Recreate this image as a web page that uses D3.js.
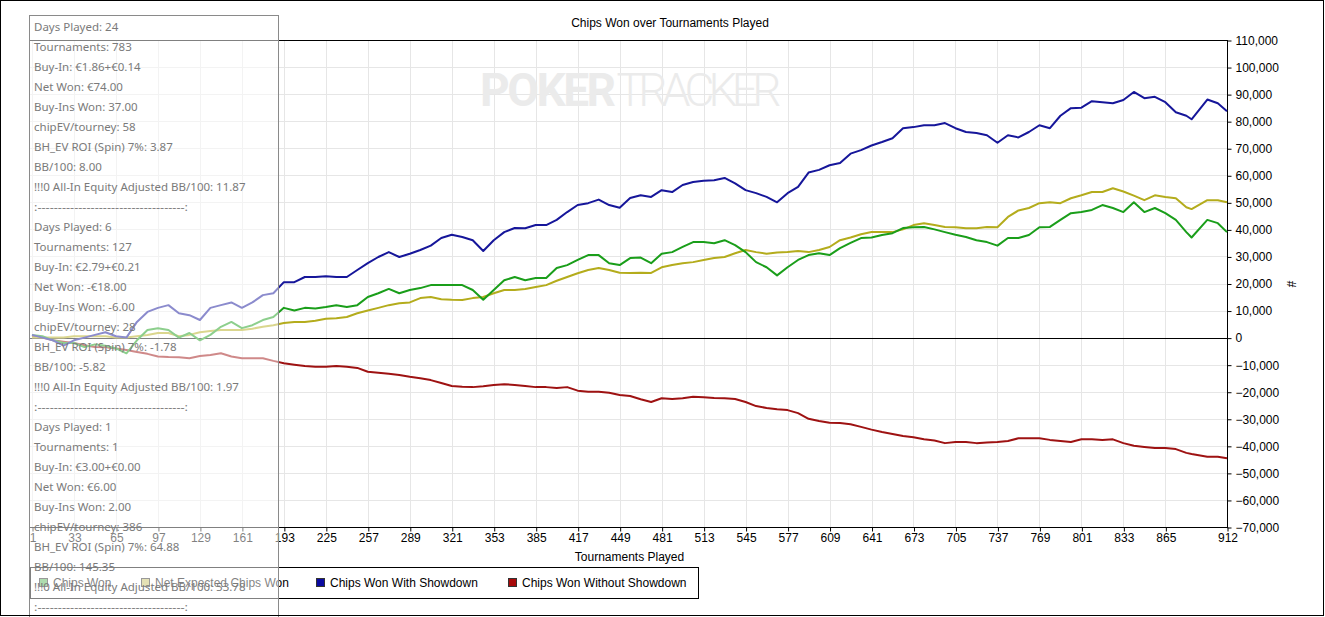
<!DOCTYPE html>
<html>
<head>
<meta charset="utf-8">
<script src="https://cdn.jsdelivr.net/npm/d3@7"></script>
<style>
  body { margin: 0; background: #fff; }
  svg { display: block; }
  .tick text { font-family: "Liberation Sans", Arial, sans-serif; font-size: 12px; fill: #000; }
</style>
</head>
<body>
<div class="canvas"></div>
<script>
// sampled tournament numbers (shared by every series)
const tournaments = [1, 9, 17, 25, 33, 41, 49, 57, 65, 73,
  81, 89, 97, 105, 113, 121, 129, 137, 145, 153,
  161, 169, 177, 185, 193, 201, 209, 217, 225, 233,
  241, 249, 257, 265, 273, 281, 289, 297, 305, 313,
  321, 329, 337, 345, 353, 361, 369, 377, 385, 393,
  401, 409, 417, 425, 433, 441, 449, 457, 465, 473,
  481, 489, 497, 505, 513, 521, 529, 537, 545, 553,
  561, 569, 577, 585, 593, 601, 609, 617, 625, 633,
  641, 649, 657, 665, 673, 681, 689, 697, 705, 713,
  721, 729, 737, 745, 753, 761, 769, 777, 785, 793,
  801, 809, 817, 825, 833, 841, 849, 857, 865, 873,
  881, 885, 897, 905, 912];

// chip values, in thousands
const chipsWon = [1, 0.5, -1, -2, -2, -3.5, -2.5, -3, -4, -5.8,
  -1, 2.8, 3.5, 2.8, 0, 1.7, -1, 1, 4, 5.8,
  3.5, 4.6, 6.5, 7.6, 11, 10, 11, 10.8, 11.3, 12,
  11.3, 12, 15, 16.4, 18, 16.4, 17.6, 18.3, 19.4, 19.4,
  19.4, 19.4, 17.6, 14, 17.6, 21.2, 22.4, 21.2, 22, 22,
  25.7, 26.8, 28.7, 30.5, 30.5, 27.5, 26.8, 29.4, 29.6, 27.5,
  31, 31.6, 33.5, 35.3, 35.3, 34.9, 36, 34.2, 31.6, 27.9,
  26, 23, 26, 28.7, 30.5, 31.2, 30.5, 33.1, 35, 36.8,
  37, 37.9, 38.6, 40.5, 40.8, 40.9, 40, 39, 38, 37.2,
  36, 35.3, 34, 36.8, 36.8, 37.9, 40.8, 40.9, 43.5, 46,
  46.4, 47.2, 49, 47.9, 46.4, 50, 46.4, 47.9, 46, 43.5,
  39, 37, 43.5, 42.3, 39];

const netExpected = [0, 0, 0, 0, 0.5, 0.5, 0.5, 0.5, 0, 0,
  0.5, 1, 1.7, 1.7, 0.5, 1, 2, 2.4, 2.8, 2.8,
  2.8, 3.3, 4, 4.6, 5.4, 5.8, 5.8, 6.2, 7, 7.2,
  7.6, 9, 10, 11, 12, 12.7, 13, 14.6, 15, 14.2,
  14, 13.9, 14.6, 15, 16.4, 17.6, 17.6, 18, 18.7, 19.4,
  21, 22.4, 23.8, 25, 25.7, 25, 24, 23.9, 24, 23.9,
  26, 26.8, 27.5, 27.9, 28.7, 29.4, 29.8, 31.2, 32.4, 31.6,
  31, 31.5, 31.6, 32, 31.6, 32.4, 33.5, 36, 37, 38.2,
  39, 39, 39, 40, 41.6, 42.3, 41.6, 40.9, 40.8, 40.4,
  40.4, 40.9, 40.8, 44.6, 47, 47.9, 49.7, 50, 49.7, 51.5,
  52.6, 53.8, 53.8, 55.2, 54, 52.5, 50.8, 52.6, 52, 51.5,
  48.2, 47.5, 50.8, 50.8, 50];

const withShowdown = [1, 0, -1, -3, -1, 0, 1, 2, 0.5, 0,
  5.8, 9.5, 11, 12, 9, 8.3, 6.5, 11, 12, 13,
  11, 13, 15.7, 16.4, 20.5, 20.5, 22.4, 22.4, 22.7, 22.4,
  22.4, 25, 27.5, 29.8, 31.6, 29.8, 31, 32.4, 34, 36.8,
  38, 37.2, 36, 32, 36, 39, 40.5, 40.4, 41.6, 41.6,
  43.5, 46.4, 49, 49.7, 51, 49, 48, 51.6, 52.6, 52,
  54.5, 53.8, 56.4, 57.5, 58, 58.2, 59, 57, 54.5, 53.4,
  52, 50, 53.4, 55.7, 61, 62, 63.7, 64.5, 68, 69.3,
  71, 72.3, 73.7, 77.4, 77.8, 78.5, 78.5, 79.3, 77.4, 76,
  75.6, 74.8, 72, 74.8, 74, 76, 78.5, 77.4, 82, 84.8,
  85, 87.4, 87, 86.6, 87.8, 90.8, 88.5, 89, 87, 83.3,
  82, 80.7, 88, 86.6, 83.7];

const withoutShowdown = [0.5, 0, -1, -1.5, -2, -2.8, -3.5, -3.6, -4, -4.6,
  -5.3, -6, -7, -7.2, -7.3, -7.6, -6.8, -6.4, -5.8, -7,
  -7.6, -7.6, -7.6, -8.6, -9.5, -10, -10.5, -10.8, -10.8, -10.5,
  -10.8, -11.2, -12.6, -13, -13.4, -13.8, -14.5, -15, -15.7, -16.8,
  -17.9, -18.2, -18.3, -18, -17.5, -17.2, -17.5, -17.9, -18.3, -18.3,
  -18.6, -18.3, -19.6, -20, -20, -20.4, -21.2, -21.6, -22.8, -23.8,
  -22.4, -22.7, -22.4, -21.9, -22, -22.3, -22.4, -22.7, -23.8, -25.3,
  -26, -26.5, -26.8, -27.9, -30, -30.8, -31.5, -31.6, -32, -33,
  -34, -34.9, -35.6, -36.4, -36.8, -37.6, -38, -39, -38.6, -38.6,
  -39, -38.8, -38.6, -38.2, -37.2, -37.2, -37.2, -37.8, -38.2, -38.6,
  -37.6, -37.6, -37.8, -37.6, -39, -40, -40.4, -40.8, -40.8, -41.2,
  -42.6, -43, -44, -44, -44.6];

const xTicks = [1, 33, 65, 97, 129, 161, 193, 225, 257, 289, 321, 353, 385, 417, 449, 481, 513, 545, 577, 609,
  641, 673, 705, 737, 769, 801, 833, 865, 912];
const yTicks = d3.range(-70000, 110001, 10000);

const seriesNames = ["Chips Won", "Net Expected Chips Won", "Chips Won With Showdown", "Chips Won Without Showdown"];
const lineColors = ["#1a9e1a", "#b4ac1c", "#16169a", "#9e1212"];
const swatchColors = ["#5cb85c", "#c9c26a", "#0a0aa0", "#a80a0a"];

// overlay stats panel
const panelLines = [
  "Days Played: 24", "Tournaments: 783", "Buy-In: €1.86+€0.14", "Net Won: €74.00", "Buy-Ins Won: 37.00",
  "chipEV/tourney: 58", "BH_EV ROI (Spin) 7%: 3.87", "BB/100: 8.00", "!!!0 All-In Equity Adjusted BB/100: 11.87", "DASH",
  "Days Played: 6", "Tournaments: 127", "Buy-In: €2.79+€0.21", "Net Won: -€18.00", "Buy-Ins Won: -6.00",
  "chipEV/tourney: 28", "BH_EV ROI (Spin) 7%: -1.78", "BB/100: -5.82", "!!!0 All-In Equity Adjusted BB/100: 1.97", "DASH",
  "Days Played: 1", "Tournaments: 1", "Buy-In: €3.00+€0.00", "Net Won: €6.00", "Buy-Ins Won: 2.00",
  "chipEV/tourney: 386", "BH_EV ROI (Spin) 7%: 64.88", "BB/100: 145.35", "!!!0 All-In Equity Adjusted BB/100: 53.78", "DASH"
];

const W = 1325, H = 617;
const plot = {left: 30, x0: 32, right: 1227, top: 40, bottom: 527};
const font = '"Liberation Sans", Arial, sans-serif';

const svg = d3.select(".canvas").append("svg")
  .attr("width", W)
  .attr("height", H);

svg.append("rect").attr("width", W).attr("height", H).attr("fill", "#fff");

const x = d3.scaleLinear().domain([1, 912]).range([plot.x0, plot.right]);
const y = d3.scaleLinear().domain([-70000, 110000]).range([plot.bottom, plot.top]);

//grid
svg.append("g").selectAll("line")
  .data(xTicks).enter().append("line")
  .attr("x1", d => Math.round(x(d)) + 0.5).attr("x2", d => Math.round(x(d)) + 0.5)
  .attr("y1", plot.top).attr("y2", plot.bottom)
  .attr("stroke", "#e6e6e6");
svg.append("g").selectAll("line")
  .data(yTicks).enter().append("line")
  .attr("x1", plot.left).attr("x2", plot.right)
  .attr("y1", d => Math.round(y(d)) + 0.5).attr("y2", d => Math.round(y(d)) + 0.5)
  .attr("stroke", "#e6e6e6");

//watermark
const wm = svg.append("text")
  .attr("x", 480).attr("y", 106)
  .attr("font-family", "Roboto, 'Open Sans', sans-serif")
  .attr("font-size", 46)
  .attr("fill", "#ebebeb");
wm.append("tspan").attr("font-weight", 700).attr("textLength", 136).text("POKER");
wm.append("tspan").attr("font-weight", 300).attr("dx", 3).attr("textLength", 165).text("TRACKER");

//frame lines
const frame = svg.append("g").attr("stroke", "#000").attr("fill", "none");
frame.append("line").attr("x1", plot.left).attr("x2", plot.right + 1).attr("y1", plot.top + 0.5).attr("y2", plot.top + 0.5);
frame.append("line").attr("x1", plot.left).attr("x2", plot.right).attr("y1", Math.round(y(0)) + 0.5).attr("y2", Math.round(y(0)) + 0.5);
frame.append("line").attr("x1", plot.left).attr("x2", plot.right).attr("y1", plot.bottom + 0.5).attr("y2", plot.bottom + 0.5);
frame.append("line").attr("x1", plot.right + 0.5).attr("x2", plot.right + 0.5).attr("y1", plot.top).attr("y2", plot.bottom + 1);

//axes
const xAxis = d3.axisBottom(x).tickValues(xTicks).tickSize(4).tickPadding(2).tickFormat(d3.format("d"));
const yAxis = d3.axisRight(y).tickValues(yTicks).tickSize(4).tickPadding(4).tickFormat(d3.format(","));

const xAxisGroup = svg.append("g")
  .attr("transform", `translate(0.5, ${plot.bottom + 0.5})`)
  .call(xAxis);
xAxisGroup.select(".domain").remove();
xAxisGroup.selectAll(".tick line").attr("stroke", "#000");

const yAxisGroup = svg.append("g")
  .attr("transform", `translate(${plot.right + 0.5}, 0.5)`)
  .call(yAxis);
yAxisGroup.select(".domain").remove();
yAxisGroup.selectAll(".tick line").attr("stroke", "#000");

//series
const seriesValues = [chipsWon, netExpected, withShowdown, withoutShowdown];
const line = d3.line().x(d => x(d[0])).y(d => y(d[1] * 1000));
const drawOrder = [3, 1, 0, 2];
drawOrder.forEach(i => {
  svg.append("path")
    .datum(tournaments.map((t, j) => [t, seriesValues[i][j]]))
    .attr("d", line)
    .attr("fill", "none")
    .attr("stroke", lineColors[i])
    .attr("stroke-width", 2)
    .attr("stroke-linejoin", "round");
});

//titles
svg.append("text")
  .attr("x", 670).attr("y", 27)
  .attr("text-anchor", "middle")
  .attr("font-family", font).attr("font-size", 12)
  .text("Chips Won over Tournaments Played");

svg.append("text")
  .attr("x", (plot.x0 + plot.right) / 2).attr("y", 561)
  .attr("text-anchor", "middle")
  .attr("font-family", font).attr("font-size", 12)
  .text("Tournaments Played");

svg.append("text")
  .attr("transform", "translate(1287, 284) rotate(90)")
  .attr("text-anchor", "middle")
  .attr("font-family", font).attr("font-size", 12)
  .text("#");

//legend
svg.append("rect")
  .attr("x", 30.5).attr("y", 567.5).attr("width", 668).attr("height", 31)
  .attr("fill", "none").attr("stroke", "#000");
const legendX = [39, 141, 316, 508];
const legend = svg.append("g").selectAll("g")
  .data(seriesNames).enter().append("g")
  .attr("transform", (d, i) => `translate(${legendX[i]}, 578)`);
legend.append("rect")
  .attr("x", 0.5).attr("y", 0.5).attr("width", 8).attr("height", 8)
  .attr("fill", (d, i) => swatchColors[i])
  .attr("stroke", "#333");
legend.append("text")
  .attr("x", 14).attr("y", 9)
  .attr("font-family", font).attr("font-size", 12)
  .text(d => d);

//stats panel over the chart
svg.append("rect")
  .attr("x", 29.5).attr("y", 15.5).attr("width", 249).attr("height", 610)
  .attr("fill", "#fff").attr("fill-opacity", 0.5)
  .attr("stroke", "#8a8a8a");

svg.append("g").selectAll("text")
  .data(panelLines).enter().append("text")
  .attr("x", 34)
  .attr("y", (d, i) => 31 + i * 20)
  .attr("font-family", "'Noto Sans', 'Open Sans', sans-serif")
  .attr("font-size", 11.5)
  .attr("fill", "#7a7a7a")
  .each(function(d) {
    const t = d3.select(this);
    if (d === "DASH") {
      t.attr("textLength", 154).attr("lengthAdjust", "spacingAndGlyphs")
        .text(":" + "-".repeat(36) + ":");
    } else {
      t.text(d);
    }
  });

//outer border
svg.append("rect")
  .attr("x", 0.5).attr("y", 0.5).attr("width", 1323).attr("height", 615)
  .attr("fill", "none").attr("stroke", "#000");
</script>
</body>
</html>
